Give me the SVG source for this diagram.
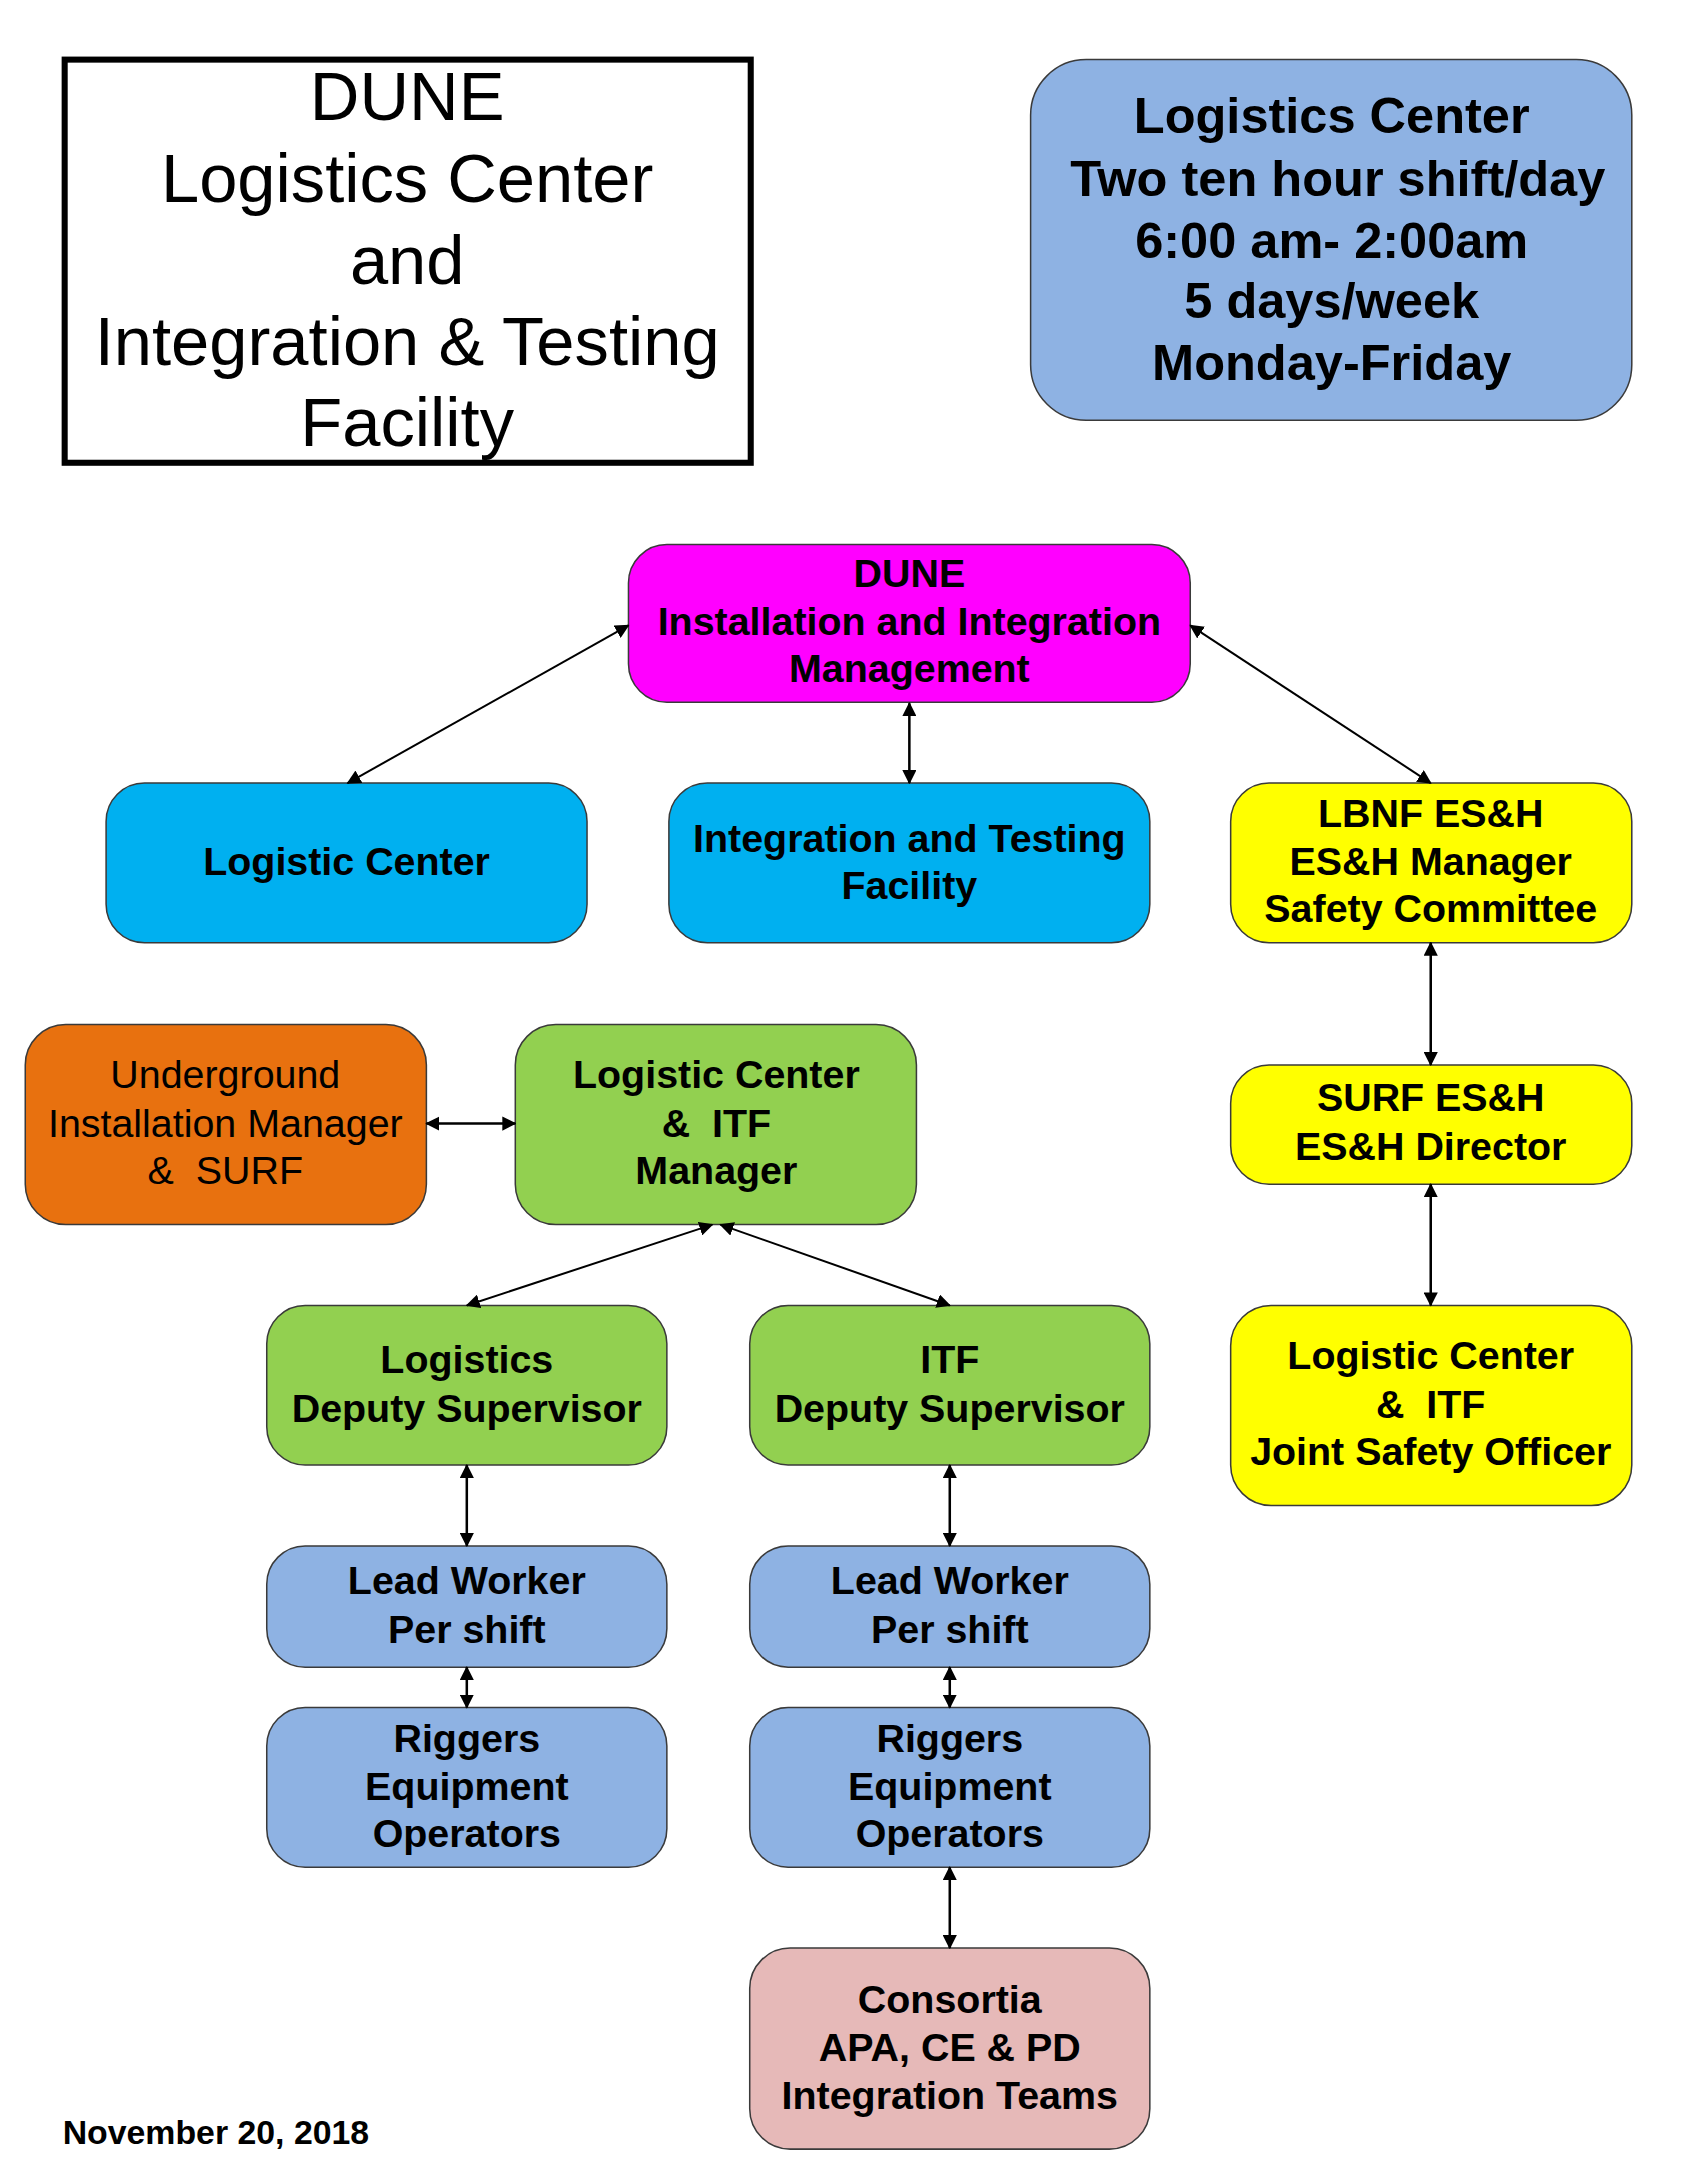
<svg xmlns="http://www.w3.org/2000/svg" width="1684" height="2178" viewBox="0 0 1684 2178">
<style>
text{font-family:"Liberation Sans",Arial,sans-serif;fill:#000;text-anchor:middle;white-space:pre}
.b{font-weight:bold;font-size:39px}
.r{font-size:39px}
.node{stroke:#3a3a3a;stroke-width:1.5}
.conn line{stroke:#000;stroke-width:2.5;marker-start:url(#ah);marker-end:url(#ah)}
</style>
<defs>
<marker id="ah" viewBox="0 0 12 12" refX="11" refY="6" markerWidth="14" markerHeight="14" markerUnits="userSpaceOnUse" orient="auto-start-reverse">
<path d="M0,0 L12,6 L0,12 Z" fill="#000"/>
</marker>
</defs>
<rect width="1684" height="2178" fill="#fff"/>
<g transform="scale(1.0104)">

<g id="title">
<rect x="64" y="59" width="679" height="399" fill="#fff" stroke="#000" stroke-width="6"/>
<text x="403" y="119" font-size="68">DUNE</text>
<text x="403" y="200" font-size="68">Logistics Center</text>
<text x="403" y="281" font-size="68">and</text>
<text x="403" y="361" font-size="68">Integration &amp; Testing</text>
<text x="403" y="441" font-size="68">Facility</text>
</g>

<g id="schedule">
<rect class="node" x="1020" y="59" width="595" height="357" rx="55" fill="#8EB2E3"/>
<text x="1318" y="132" font-size="50" font-weight="bold">Logistics Center</text>
<text x="1324" y="194" font-size="50" font-weight="bold">Two ten hour shift/day</text>
<text x="1318" y="255" font-size="50" font-weight="bold">6:00 am- 2:00am</text>
<text x="1318" y="315" font-size="50" font-weight="bold">5 days/week</text>
<text x="1318" y="376" font-size="50" font-weight="bold">Monday-Friday</text>
</g>

<g id="dune-mgmt">
<rect class="node" x="622" y="539" width="556" height="156" rx="38" fill="#FF00FF"/>
<text class="b" x="900" y="581">DUNE</text>
<text class="b" x="900" y="628">Installation and Integration</text>
<text class="b" x="900" y="675">Management</text>
</g>

<g id="logistic-center">
<rect class="node" x="105" y="775" width="476" height="158" rx="38" fill="#00B0F0"/>
<text class="b" x="343" y="866">Logistic Center</text>
</g>

<g id="itf">
<rect class="node" x="662" y="775" width="476" height="158" rx="38" fill="#00B0F0"/>
<text class="b" x="900" y="843">Integration and Testing</text>
<text class="b" x="900" y="890">Facility</text>
</g>

<g id="lbnf">
<rect class="node" x="1218" y="775" width="397" height="158" rx="38" fill="#FFFF00"/>
<text class="b" x="1416" y="818">LBNF ES&amp;H</text>
<text class="b" x="1416" y="866">ES&amp;H Manager</text>
<text class="b" x="1416" y="913">Safety Committee</text>
</g>

<g id="underground">
<rect class="node" x="25" y="1014" width="397" height="198" rx="40" fill="#E8710F"/>
<text class="r" x="223" y="1077">Underground</text>
<text class="r" x="223" y="1125">Installation Manager</text>
<text class="r" x="223" y="1172">&amp;  SURF</text>
</g>

<g id="lc-itf-manager">
<rect class="node" x="510" y="1014" width="397" height="198" rx="40" fill="#92D050"/>
<text class="b" x="709" y="1077">Logistic Center</text>
<text class="b" x="709" y="1125">&amp;  ITF</text>
<text class="b" x="709" y="1172">Manager</text>
</g>

<g id="surf">
<rect class="node" x="1218" y="1054" width="397" height="118" rx="38" fill="#FFFF00"/>
<text class="b" x="1416" y="1100">SURF ES&amp;H</text>
<text class="b" x="1416" y="1148">ES&amp;H Director</text>
</g>

<g id="logistics-ds">
<rect class="node" x="264" y="1292" width="396" height="158" rx="38" fill="#92D050"/>
<text class="b" x="462" y="1359">Logistics</text>
<text class="b" x="462" y="1407">Deputy Supervisor</text>
</g>

<g id="itf-ds">
<rect class="node" x="742" y="1292" width="396" height="158" rx="38" fill="#92D050"/>
<text class="b" x="940" y="1359">ITF</text>
<text class="b" x="940" y="1407">Deputy Supervisor</text>
</g>

<g id="joint-safety">
<rect class="node" x="1218" y="1292" width="397" height="198" rx="40" fill="#FFFF00"/>
<text class="b" x="1416" y="1355">Logistic Center</text>
<text class="b" x="1416" y="1403">&amp;  ITF</text>
<text class="b" x="1416" y="1450">Joint Safety Officer</text>
</g>

<g id="lead-left">
<rect class="node" x="264" y="1530" width="396" height="120" rx="38" fill="#8EB2E3"/>
<text class="b" x="462" y="1578">Lead Worker</text>
<text class="b" x="462" y="1626">Per shift</text>
</g>

<g id="lead-right">
<rect class="node" x="742" y="1530" width="396" height="120" rx="38" fill="#8EB2E3"/>
<text class="b" x="940" y="1578">Lead Worker</text>
<text class="b" x="940" y="1626">Per shift</text>
</g>

<g id="riggers-left">
<rect class="node" x="264" y="1690" width="396" height="158" rx="38" fill="#8EB2E3"/>
<text class="b" x="462" y="1734">Riggers</text>
<text class="b" x="462" y="1781">Equipment</text>
<text class="b" x="462" y="1828">Operators</text>
</g>

<g id="riggers-right">
<rect class="node" x="742" y="1690" width="396" height="158" rx="38" fill="#8EB2E3"/>
<text class="b" x="940" y="1734">Riggers</text>
<text class="b" x="940" y="1781">Equipment</text>
<text class="b" x="940" y="1828">Operators</text>
</g>

<g id="consortia">
<rect class="node" x="742" y="1928" width="396" height="199" rx="40" fill="#E6B9B8"/>
<text class="b" x="940" y="1992">Consortia</text>
<text class="b" x="940" y="2040">APA, CE &amp; PD</text>
<text class="b" x="940" y="2087">Integration Teams</text>
</g>

<g id="connectors" class="conn">
<line x1="622" y1="619" x2="344" y2="775" style="stroke-width:2"/>
<line x1="900" y1="696" x2="900" y2="775"/>
<line x1="1178" y1="619" x2="1416" y2="775" style="stroke-width:2"/>
<line x1="1416" y1="933" x2="1416" y2="1054"/>
<line x1="1416" y1="1172" x2="1416" y2="1292"/>
<line x1="422" y1="1112" x2="510" y2="1112"/>
<line x1="705" y1="1212" x2="462" y2="1292" style="stroke-width:2"/>
<line x1="713" y1="1212" x2="940" y2="1292" style="stroke-width:2"/>
<line x1="462" y1="1450" x2="462" y2="1530"/>
<line x1="940" y1="1450" x2="940" y2="1530"/>
<line x1="462" y1="1650" x2="462" y2="1690"/>
<line x1="940" y1="1650" x2="940" y2="1690"/>
<line x1="940" y1="1848" x2="940" y2="1928"/>
</g>

<text x="62" y="2122" font-size="33.5" font-weight="bold" style="text-anchor:start">November 20, 2018</text>
</g>
</svg>
